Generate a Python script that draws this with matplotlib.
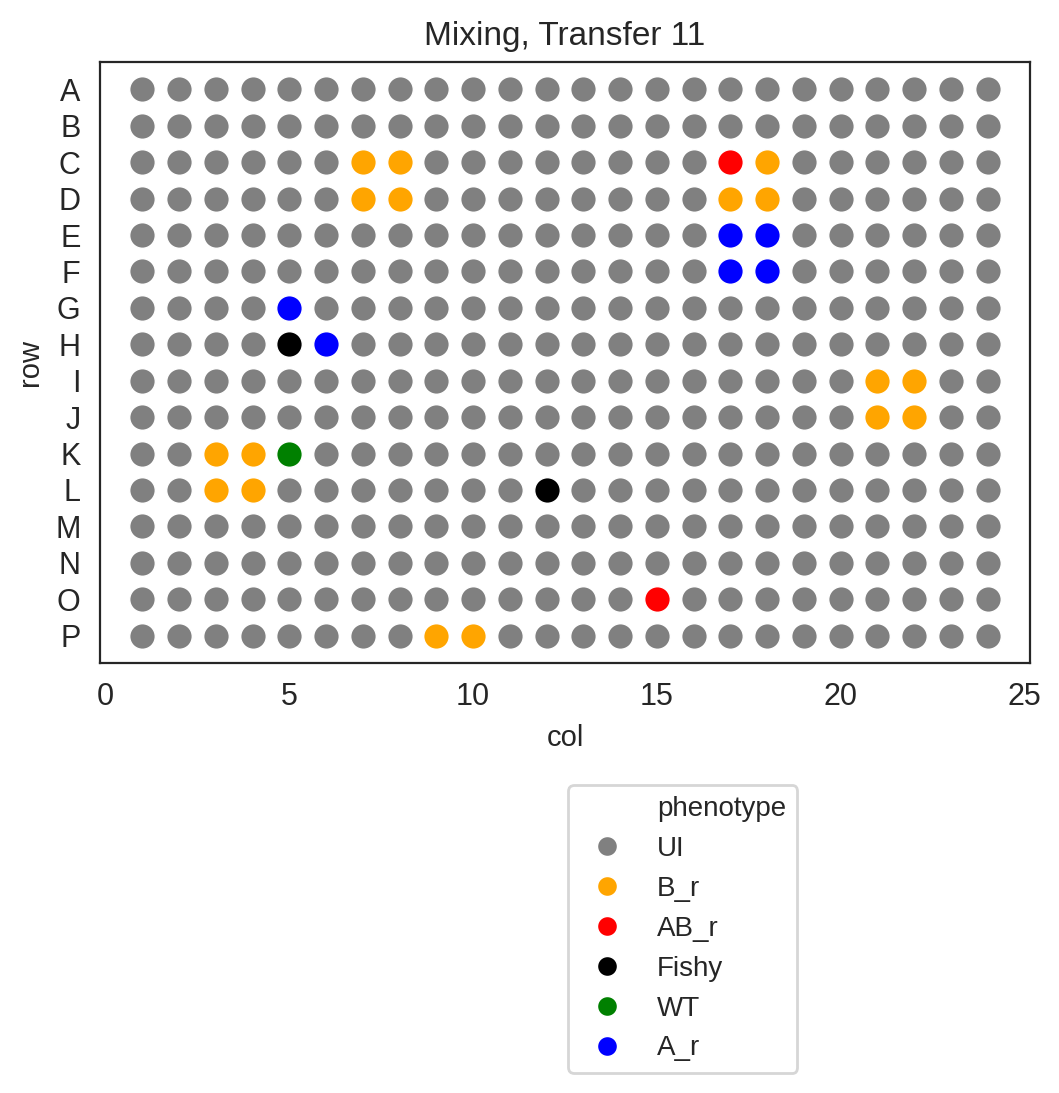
import matplotlib
matplotlib.use("Agg")
import matplotlib.pyplot as plt
from matplotlib.lines import Line2D
import seaborn as sns

sns.set_style("white")
plt.rcParams['font.family'] = ['Liberation Sans', 'DejaVu Sans']

# plate layout: 16 rows x 24 columns
row_names = list("ABCDEFGHIJKLMNOP")
n_cols = 24

phenotypes = ["UI", "B_r", "AB_r", "Fishy", "WT", "A_r"]
colors = ["grey", "orange", "red", "black", "green", "blue"]

# wells that are not UI: (row, col, phenotype)
hits = [
    ("C", 7, "B_r"), ("C", 8, "B_r"), ("D", 7, "B_r"), ("D", 8, "B_r"),
    ("C", 17, "AB_r"), ("C", 18, "B_r"), ("D", 17, "B_r"), ("D", 18, "B_r"),
    ("E", 17, "A_r"), ("E", 18, "A_r"), ("F", 17, "A_r"), ("F", 18, "A_r"),
    ("G", 5, "A_r"), ("H", 5, "Fishy"), ("H", 6, "A_r"),
    ("I", 21, "B_r"), ("I", 22, "B_r"), ("J", 21, "B_r"), ("J", 22, "B_r"),
    ("K", 3, "B_r"), ("K", 4, "B_r"), ("K", 5, "WT"),
    ("L", 3, "B_r"), ("L", 4, "B_r"), ("L", 12, "Fishy"),
    ("O", 15, "AB_r"),
    ("P", 9, "B_r"), ("P", 10, "B_r"),
]

well_pheno = {}
for r in row_names:
    for c in range(1, n_cols + 1):
        well_pheno[(r, c)] = "UI"
for r, c, p in hits:
    well_pheno[(r, c)] = p

fig = plt.figure(figsize=(1059/200, 1093/200), dpi=200)
ax = fig.add_axes([100/1059, 1 - 663/1093, 930/1059, 601/1093])

for p, col in zip(phenotypes, colors):
    xs = [c for (r, c), v in well_pheno.items() if v == p]
    ys = [row_names.index(r) for (r, c), v in well_pheno.items() if v == p]
    ax.scatter(xs, ys, s=85, c=col, edgecolors="white", linewidths=0.5, label=p)

# default 5% margins on both axes, rows top to bottom
ax.invert_yaxis()
ax.set_xticks([0, 5, 10, 15, 20, 25])
ax.set_yticks(range(len(row_names)))
ax.set_yticklabels(row_names)
ax.tick_params(labelsize=11)
ax.set_xlabel("col", fontsize=10.5)
ax.set_ylabel("row", fontsize=10.5)
ax.set_title("Mixing, Transfer 11", fontsize=12)
for s in ax.spines.values():
    s.set_color("#262626")

handles = [Line2D([], [], linestyle="none", marker="")]
labels = ["phenotype"]
for p, col in zip(phenotypes, colors):
    handles.append(Line2D([], [], linestyle="none", marker="o", markersize=7.2,
                          markerfacecolor=col, markeredgecolor="white", markeredgewidth=0.5))
    labels.append(p)
fig.legend(handles, labels, loc="upper left", bbox_to_anchor=(568/1059, 1 - 785/1093),
           borderaxespad=0, fontsize=10, frameon=True)

fig.savefig("out.png", dpi=200)
